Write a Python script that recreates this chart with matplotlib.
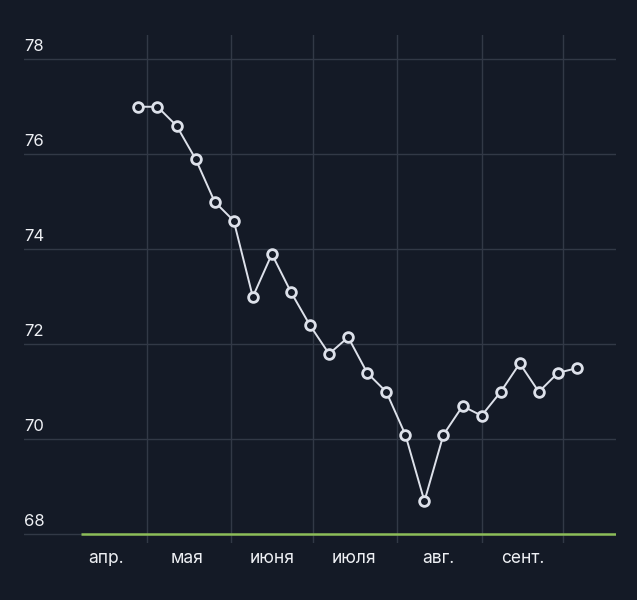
import matplotlib
matplotlib.use("Agg")
import matplotlib.pyplot as plt
import pandas as pd

dates = ["2024-04-28", "2024-05-05", "2024-05-12", "2024-05-19", "2024-05-26",
         "2024-06-02", "2024-06-09", "2024-06-16", "2024-06-23", "2024-06-30",
         "2024-07-07", "2024-07-14", "2024-07-21", "2024-07-28", "2024-08-04",
         "2024-08-11", "2024-08-18", "2024-08-25", "2024-09-01", "2024-09-08",
         "2024-09-15", "2024-09-22", "2024-09-29", "2024-10-06"]
values = [77.0, 77.0, 76.6, 75.9, 75.0, 74.6, 73.0, 73.9, 73.1, 72.4,
          71.8, 72.15, 71.4, 71.0, 70.1, 68.7, 70.1, 70.7, 70.5, 71.0,
          71.6, 71.0, 71.4, 71.5]
month_starts = ["2024-05-01", "2024-06-01", "2024-07-01", "2024-08-01", "2024-09-01", "2024-10-01"]
month_mids = ["2024-04-16", "2024-05-16", "2024-06-16", "2024-07-16", "2024-08-16", "2024-09-16"]
month_labels = ["апр.", "мая", "июня", "июля", "авг.", "сент."]
y_ticks = [68, 70, 72, 74, 76, 78]

BG = "#141a26"
GRID = "#323946"
LINE = "#dde1ea"
GREEN = "#8cbd58"
TEXT = "#eef0f4"

plt.rcParams['font.family'] = ['Inter', 'DejaVu Sans']

W, H = 637, 600
fig = plt.figure(figsize=(W / 100, H / 100), dpi=100, facecolor=BG)
left, right, top, bottom = 24, 616, 35, 543
ax = fig.add_axes([left / W, 1 - bottom / H, (right - left) / W, (bottom - top) / H])
ax.set_facecolor(BG)

x = pd.to_datetime(dates)
ax.set_xlim(pd.Timestamp("2024-03-17"), pd.Timestamp("2024-10-20 08:00"))
ax.set_ylim(67.82, 78.51)

# grids
ax.set_yticks(y_ticks)
ax.set_xticks(pd.to_datetime(month_starts))
ax.grid(True, color=GRID, linewidth=1.0)
ax.set_xticks(pd.to_datetime(month_mids), minor=True)
ax.set_xticklabels([], minor=False)
ax.set_xticklabels(month_labels, minor=True)
ax.tick_params(axis='x', which='both', length=0, pad=5)
ax.tick_params(axis='x', which='minor', labelsize=12.5, labelcolor=TEXT)
ax.tick_params(axis='y', length=0, labelleft=False)
for s in ax.spines.values():
    s.set_visible(False)

# y labels above gridlines at left
for v in y_ticks:
    ax.annotate(str(v), xy=(0, v), xycoords=('axes fraction', 'data'),
                xytext=(0, 4), textcoords='offset points',
                ha='left', va='bottom', fontsize=12, color=TEXT)

# green baseline
ax.plot([pd.Timestamp("2024-04-07"), pd.Timestamp("2024-10-20 08:00")], [68, 68],
        color=GREEN, linewidth=1.8, solid_capstyle='butt', zorder=3)

ax.plot(x, values, color=LINE, linewidth=1.4, zorder=4,
        marker='o', markersize=7, markerfacecolor=BG, markeredgecolor=LINE,
        markeredgewidth=2.0)

fig.savefig("out.png", dpi=100, facecolor=BG)
